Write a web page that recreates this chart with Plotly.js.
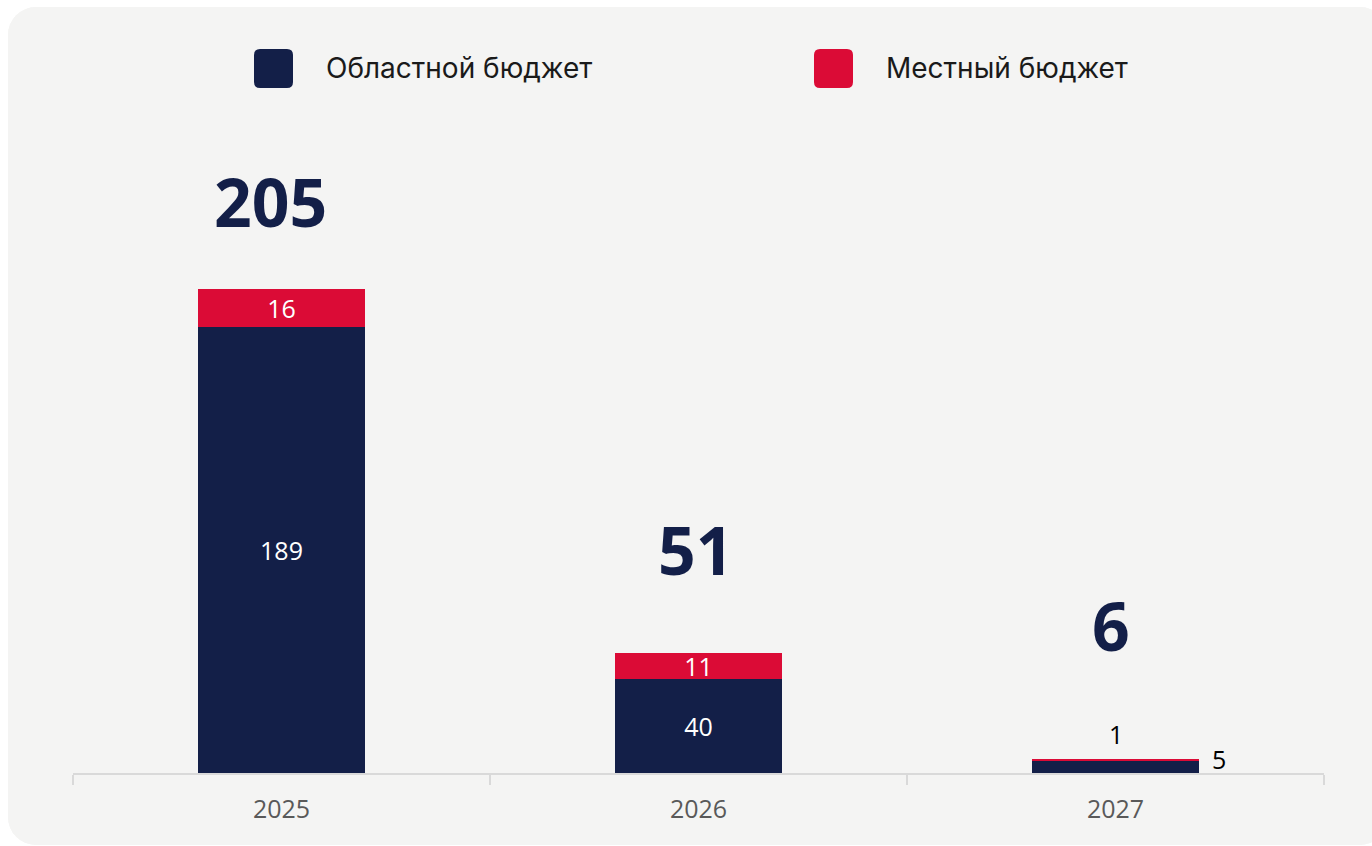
<!DOCTYPE html>
<html>
<head>
<meta charset="utf-8">
<script src="https://cdn.plot.ly/plotly-3.0.1.min.js"></script>
<style>
  html, body { margin: 0; padding: 0; background: #ffffff; overflow: hidden; }
  #chart {
    position: absolute; left: 8px; top: 7px;
    width: 1380px; height: 838px;
    border-radius: 28px; overflow: hidden;
    background: #f4f4f3;
  }
</style>
</head>
<body>
<div id="chart"></div>
<script>
// данные
const years = ['2025', '2026', '2027'];
const regional = [189, 40, 5];   // Областной бюджет
const local = [16, 11, 1];       // Местный бюджет
const seriesNames = ['Областной бюджет', 'Местный бюджет'];

const NAVY = '#131f48', RED = '#db0b36';
const W = 1380, H = 838;
const M = { l: 65, r: 64, t: 58, b: 72 };
const plotW = W - M.l - M.r, plotH = H - M.t - M.b;

// пиксели -> доли области построения
const px = x => (x - M.l) / plotW;
const py = y => (H - M.b - y) / plotH;

const totals = years.map((_, i) => regional[i] + local[i]);
// смещение подписи итога относительно верха столбца, px
const totalLift = [88, 104, 134];
const totalShiftX = [-11, -3, -5];

// подписи внутри только там, где столбец достаточно высокий
const inside = (vals, min) => vals.map(v => v >= min ? String(v) : '');

const data = [
    {
        type: 'bar', x: years, y: regional, name: seriesNames[0],
        marker: { color: NAVY, line: { width: 0 } },
        text: inside(regional, 10), textposition: 'inside', insidetextanchor: 'middle',
        textangle: 0, textfont: { color: '#ffffff', size: 25, family: 'Open Sans' },
        hoverinfo: 'x+y+name'
    },
    {
        type: 'bar', x: years, y: local, name: seriesNames[1],
        marker: { color: RED, line: { width: 0 } },
        text: inside(local, 5), textposition: 'inside', insidetextanchor: 'middle',
        textangle: 0, textfont: { color: '#ffffff', size: 25, family: 'Open Sans' },
        hoverinfo: 'x+y+name'
    }
];

// на категориальной оси аннотации ставим по индексу категории
const annotations = [];
totals.forEach((t, i) => {
    annotations.push({
        x: i, y: t, xref: 'x', yref: 'y', text: String(t),
        showarrow: false, yanchor: 'middle', yshift: totalLift[i], xshift: totalShiftX[i],
        font: { family: 'Open Sans', size: 66, color: NAVY, weight: 700 }
    });
});
// маленький столбец 2027: подписи снаружи
const last = years.length - 1;
annotations.push({
    x: last, y: totals[last], text: String(local[last]), showarrow: false,
    yanchor: 'middle', yshift: 25, font: { family: 'Open Sans', size: 25, color: '#000000' }
});
annotations.push({
    x: last, y: regional[last], text: String(regional[last]), showarrow: false,
    yanchor: 'middle', xshift: 103, yshift: 2, font: { family: 'Open Sans', size: 25, color: '#000000' }
});

// легенда: скруглённые квадраты + текст
function roundSq(x0, y0, s, r) {
    const X = v => px(v), Y = v => py(v);
    const x1 = x0 + s, y1 = y0 + s;
    return `M ${X(x0 + r)} ${Y(y0)} L ${X(x1 - r)} ${Y(y0)} Q ${X(x1)} ${Y(y0)} ${X(x1)} ${Y(y0 + r)}` +
        ` L ${X(x1)} ${Y(y1 - r)} Q ${X(x1)} ${Y(y1)} ${X(x1 - r)} ${Y(y1)}` +
        ` L ${X(x0 + r)} ${Y(y1)} Q ${X(x0)} ${Y(y1)} ${X(x0)} ${Y(y1 - r)}` +
        ` L ${X(x0)} ${Y(y0 + r)} Q ${X(x0)} ${Y(y0)} ${X(x0 + r)} ${Y(y0)} Z`;
}
const legendItems = [
    { sx: 246, tx: 316, color: NAVY, name: seriesNames[0] },
    { sx: 806, tx: 876, color: RED, name: seriesNames[1] }
];
const shapes = legendItems.map(it => ({
    type: 'path', xref: 'paper', yref: 'paper', path: roundSq(it.sx, 42, 39, 6),
    fillcolor: it.color, line: { width: 0 }
}));
legendItems.forEach(it => {
    annotations.push({
        xref: 'paper', yref: 'paper', x: px(it.tx), y: py(61), xanchor: 'left', yanchor: 'middle',
        text: it.name, showarrow: false,
        font: { family: 'Inter', size: 28, color: '#1a1a1a' }
    });
});

const layout = {
    width: W, height: H,
    margin: M,
    barmode: 'stack', bargap: 0.6,
    showlegend: false,
    paper_bgcolor: '#f4f4f3', plot_bgcolor: 'rgba(0,0,0,0)',
    font: { family: 'Open Sans', color: '#595959' },
    xaxis: {
        type: 'category', range: [-0.5, years.length - 0.5], autorange: false,
        showgrid: false, zeroline: false,
        showline: true, linecolor: '#d9d9d9', linewidth: 2,
        ticks: 'outside', tickson: 'boundaries', ticklen: 10, tickwidth: 2, tickcolor: '#d9d9d9',
        tickangle: 0, ticklabelstandoff: 13,
        tickfont: { size: 25, color: '#595959', family: 'Open Sans' }
    },
    yaxis: { range: [0, 300], autorange: false, visible: false, showgrid: false, zeroline: false },
    uniformtext: { mode: 'show', minsize: 25 },
    annotations: annotations,
    shapes: shapes
};

Plotly.newPlot('chart', data, layout, { displayModeBar: false, staticPlot: true });
</script>
</body>
</html>
